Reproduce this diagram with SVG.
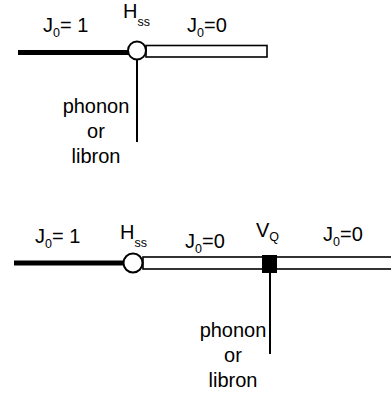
<svg xmlns="http://www.w3.org/2000/svg" width="391" height="397" viewBox="0 0 391 397">
<style>
text{font-family:"Liberation Sans",Arial,sans-serif;font-size:20px;fill:#000}
.sub{font-size:12.5px}
.thick{stroke:#000;stroke-width:5;fill:none}
.bar{fill:#fff;stroke:#000;stroke-width:1.6}
.line{stroke:#000;stroke-width:2;fill:none}
.node{fill:#fff;stroke:#000;stroke-width:2}
</style>
<rect width="391" height="397" fill="#fff"/>
<g id="connectors">
<line class="thick" x1="18" y1="52.5" x2="129" y2="52.5"/>
<rect class="bar" x="146" y="45.5" width="121" height="11.5"/>
<line class="line" x1="137" y1="59" x2="137" y2="142"/>
<line class="thick" x1="14" y1="263" x2="125" y2="263"/>
<rect class="bar" x="143" y="257" width="252" height="12"/>
<line class="line" x1="270" y1="273" x2="270" y2="354"/>
</g>
<g id="hss1"><circle class="node" cx="137" cy="50.5" r="9"/></g>
<g id="hss2"><circle class="node" cx="133" cy="263" r="9.5"/></g>
<g id="vq"><rect x="262" y="255" width="15" height="18" fill="#000"/></g>
<g id="labels1">
<text x="43" y="32">J<tspan class="sub" dy="5">0</tspan><tspan dy="-5">= 1</tspan></text>
<text x="123" y="18">H<tspan class="sub" dy="8">ss</tspan></text>
<text x="187" y="32">J<tspan class="sub" dy="5">0</tspan><tspan dy="-5">=0</tspan></text>
<text x="96" y="113" text-anchor="middle">phonon</text>
<text x="96" y="138" text-anchor="middle">or</text>
<text x="96" y="163" text-anchor="middle">libron</text>
</g>
<g id="labels2">
<text x="35" y="243">J<tspan class="sub" dy="5">0</tspan><tspan dy="-5">= 1</tspan></text>
<text x="120" y="239">H<tspan class="sub" dy="8">ss</tspan></text>
<text x="185" y="248">J<tspan class="sub" dy="5">0</tspan><tspan dy="-5">=0</tspan></text>
<text x="256" y="237">V<tspan class="sub" dy="4">Q</tspan></text>
<text x="323" y="241">J<tspan class="sub" dy="5">0</tspan><tspan dy="-5">=0</tspan></text>
<text x="233" y="337" text-anchor="middle">phonon</text>
<text x="233" y="362" text-anchor="middle">or</text>
<text x="233" y="387" text-anchor="middle">libron</text>
</g>
</svg>
